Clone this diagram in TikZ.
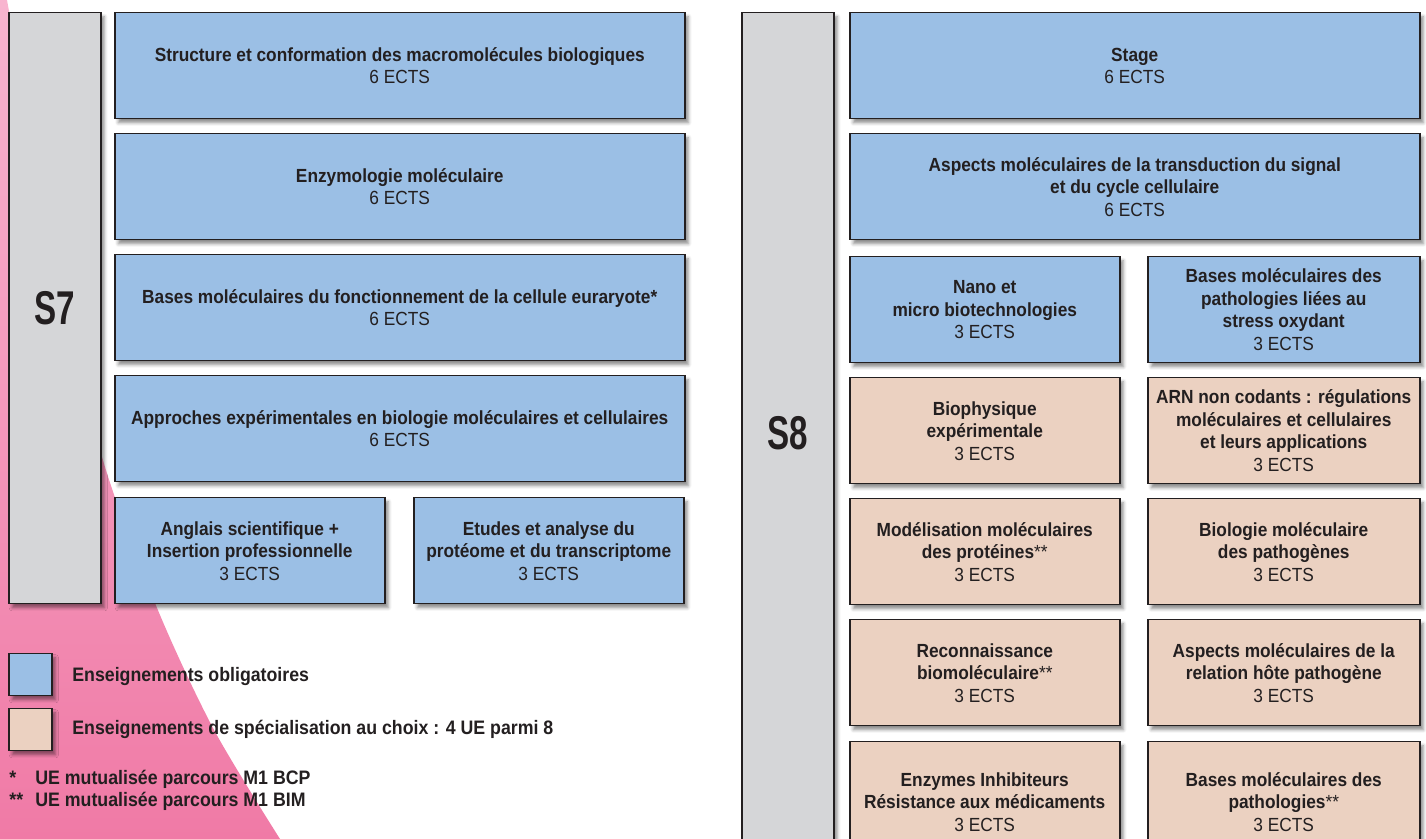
\documentclass[tikz,border=0pt]{standalone}
\usepackage{fontspec}
\setmainfont{Liberation Sans}[FakeStretch=0.91]
\newfontfamily\semfont{Liberation Sans}[FakeStretch=0.7]
\usetikzlibrary{shadows.blur}
\definecolor{ueblue}{HTML}{9BBFE5}
\definecolor{uepeach}{HTML}{EBD1C1}
\definecolor{semgray}{HTML}{D5D6D8}
\definecolor{pinktop}{HTML}{F8B4CF}
\definecolor{pinkbot}{HTML}{F07AA6}
\definecolor{ink}{HTML}{231F20}
\tikzset{
  ue/.style={draw=ink, line width=0.75pt, anchor=north west, align=center, text=ink, inner sep=0pt,
    font=\fontsize{9.5}{11.25}\selectfont,
    blur shadow={shadow xshift=1.8pt, shadow yshift=-2pt, shadow blur radius=1.6pt, shadow opacity=45}},
  big/.style={ue, fill=ueblue, minimum width=285pt, minimum height=53pt},
  halfblue/.style={ue, fill=ueblue, minimum width=135pt, minimum height=53pt},
  halfpeach/.style={ue, fill=uepeach, minimum width=135pt, minimum height=53pt},
  sem/.style={ue, fill=semgray, minimum width=46pt, font=\semfont\bfseries\fontsize{23.7}{28}\selectfont},
  legbox/.style={ue, minimum width=21.5pt, minimum height=21pt},
  legtext/.style={anchor=west, text=ink, inner sep=0pt, font=\bfseries\fontsize{9.75}{11.25}\selectfont}
}
\begin{document}
\begin{tikzpicture}[x=0.5pt, y=-0.5pt]
\useasboundingbox (0,0) rectangle (1426,839);
\clip (0,0) rectangle (1426,839);
\shade [top color=pinktop, bottom color=pinkbot] (0,0) -- plot [smooth] coordinates {(7,0) (50,230) (100,450) (155,603) (213,728) (280,839)} -- (0,839) -- cycle;

% S7
\node [sem, minimum height=295.5pt] (sem7) at (8,12) {S7};
\node [big] (s7a) at (114,12) {\textbf{Structure et conformation des macromolécules biologiques}\\6 ECTS};
\node [big] (s7b) at (114,133) {\textbf{Enzymologie moléculaire}\\6 ECTS};
\node [big] (s7c) at (114,254) {\textbf{Bases moléculaires du fonctionnement de la cellule euraryote*}\\6 ECTS};
\node [big] (s7d) at (114,375) {\textbf{Approches expérimentales en biologie moléculaires et cellulaires}\\6 ECTS};
\node [halfblue] (s7e) at (114,497) {\textbf{Anglais scientifique +}\\\textbf{Insertion professionnelle}\\3 ECTS};
\node [halfblue] (s7f) at (413,497) {\textbf{Etudes et analyse du}\\\textbf{protéome et du transcriptome}\\3 ECTS};

% S8
\node [sem, minimum height=420pt] (sem8) at (741,12) {S8};
\node [big] (s8a) at (849,12) {\textbf{Stage}\\6 ECTS};
\node [big] (s8b) at (849,133) {\textbf{Aspects moléculaires de la transduction du signal}\\\textbf{et du cycle cellulaire}\\6 ECTS};
\node [halfblue] (s8c) at (849,256) {\textbf{Nano et}\\\textbf{micro biotechnologies}\\3 ECTS};
\node [halfblue, minimum width=136pt] (s8d) at (1147,256) {\textbf{Bases moléculaires des}\\\textbf{pathologies liées au}\\\textbf{stress oxydant}\\3 ECTS};
\node [halfpeach] (s8e) at (849,377) {\textbf{Biophysique}\\\textbf{expérimentale}\\3 ECTS};
\node [halfpeach, minimum width=136pt] (s8f) at (1147,377) {\textbf{ARN non codants : régulations}\\\textbf{moléculaires et cellulaires}\\\textbf{et leurs applications}\\3 ECTS};
\node [halfpeach] (s8g) at (849,498) {\textbf{Modélisation moléculaires}\\\textbf{des protéines}**\\3 ECTS};
\node [halfpeach, minimum width=136pt] (s8h) at (1147,498) {\textbf{Biologie moléculaire}\\\textbf{des pathogènes}\\3 ECTS};
\node [halfpeach] (s8i) at (849,619) {\textbf{Reconnaissance}\\\textbf{biomoléculaire}**\\3 ECTS};
\node [halfpeach, minimum width=136pt] (s8j) at (1147,619) {\textbf{Aspects moléculaires de la}\\\textbf{relation hôte pathogène}\\3 ECTS};
\node [halfpeach, minimum height=60pt] (s8k) at (849,741) {\textbf{Enzymes Inhibiteurs}\\\textbf{Résistance aux médicaments}\\3 ECTS};
\node [halfpeach, minimum width=136pt, minimum height=60pt] (s8l) at (1147,741) {\textbf{Bases moléculaires des}\\\textbf{pathologies}**\\3 ECTS};

% legende
\node [legbox, fill=ueblue] (leg1) at (8,653) {};
\node [legbox, fill=uepeach] (leg2) at (8,708) {};
\node [legtext] (leg1t) at (72,677) {Enseignements obligatoires};
\node [legtext] (leg2t) at (72,729) {Enseignements de spécialisation au choix : 4 UE parmi 8};
\node [legtext] (fn1) at (9,779) {\makebox[13pt][l]{*}UE mutualisée parcours M1 BCP};
\node [legtext] (fn2) at (9,801) {\makebox[13pt][l]{**}UE mutualisée parcours M1 BIM};
\end{tikzpicture}
\end{document}
